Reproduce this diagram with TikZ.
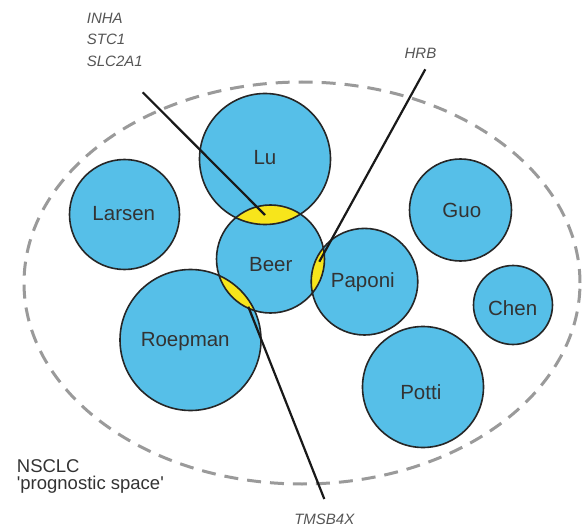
\documentclass[tikz,border=0pt]{standalone}
\usepackage{fontspec}
\setmainfont{Liberation Sans}
\definecolor{blobblue}{HTML}{56BFE8}
\definecolor{lensyellow}{HTML}{F7E51B}
\definecolor{dashgray}{HTML}{9A9A9A}
\definecolor{labelgray}{HTML}{333333}
\definecolor{genegray}{HTML}{555555}
\begin{document}
\begin{tikzpicture}[x=1pt,y=-1pt,
  blob/.style={circle, fill=blobblue, inner sep=0pt, outer sep=0pt},
  rim/.style={draw=black!85, line width=1.6pt},
  lens/.style={fill=lensyellow},
  lbl/.style={anchor=base, text=labelgray, font=\fontsize{20.5}{24}\selectfont, inner sep=0pt},
  gene/.style={anchor=base west, text=genegray, font=\fontsize{15}{18}\selectfont\itshape, inner sep=0pt},
  genec/.style={anchor=base, text=genegray, font=\fontsize{15}{18}\selectfont\itshape, inner sep=0pt},
  space/.style={anchor=base west, text=labelgray, font=\fontsize{18.5}{17}\selectfont, inner sep=0pt},
  marker/.style={draw=black!90, line width=2.2pt}]
\useasboundingbox (0,0) rectangle (582,527);
% prognostic space
\draw[dashgray, line width=3pt, dash pattern=on 14pt off 9pt] (302,283) ellipse [x radius=278pt, y radius=201pt];
% circle fills
\node[blob, minimum size=131pt] (Lu) at (265,159) {};
\node[blob, minimum size=108pt] (Beer) at (270.5,259) {};
\node[blob, minimum size=110pt] (Larsen) at (124.5,214.5) {};
\node[blob, minimum size=102pt] (Guo) at (460.5,210) {};
\node[blob, minimum size=106.6pt] (Paponi) at (364.5,281.7) {};
\node[blob, minimum size=79pt] (Chen) at (513,305) {};
\node[blob, minimum size=121pt] (Potti) at (423,387) {};
\node[blob, minimum size=141pt] (Roepman) at (190.5,340) {};
% overlaps
\begin{scope}
  \clip (Lu.center) circle[radius=65.5pt];
  \fill[lens] (Beer.center) circle[radius=54pt];
\end{scope}
\begin{scope}
  \clip (Paponi.center) circle[radius=53.3pt];
  \fill[lens] (Beer.center) circle[radius=54pt];
\end{scope}
\begin{scope}
  \clip (Roepman.center) circle[radius=70.5pt];
  \fill[lens] (Beer.center) circle[radius=54pt];
\end{scope}
% outlines
\path[rim] (Lu.center) circle[radius=65.5pt];
\path[rim] (Beer.center) circle[radius=54pt];
\path[rim] (Larsen.center) circle[radius=55pt];
\path[rim] (Guo.center) circle[radius=51pt];
\path[rim] (Paponi.center) circle[radius=53.3pt];
\path[rim] (Chen.center) circle[radius=39.5pt];
\path[rim] (Potti.center) circle[radius=60.5pt];
\path[rim] (Roepman.center) circle[radius=70.5pt];
% circle labels
\node[lbl] (tLu) at (265,164.3) {Lu};
\node[lbl] (tBeer) at (270.8,271.7) {Beer};
\node[lbl] (tLarsen) at (123.8,220.7) {Larsen};
\node[lbl] (tGuo) at (461.8,217.3) {Guo};
\node[lbl] (tPaponi) at (362.8,287) {Paponi};
\node[lbl] (tChen) at (512.7,315) {Chen};
\node[lbl] (tPotti) at (420.8,399) {Potti};
\node[lbl] (tRoepman) at (185.2,346.7) {Roepman};
% gene markers
\coordinate (inhaEnd) at (142.7,92.3);
\coordinate (inhaTip) at (265,215);
\coordinate (hrbEnd) at (425.3,69.3);
\coordinate (hrbTip) at (319.3,261.7);
\coordinate (tmsTip) at (248.3,306.7);
\coordinate (tmsEnd) at (324.3,499);
\draw[marker] (inhaEnd) -- (inhaTip);
\draw[marker] (hrbEnd) -- (hrbTip);
\draw[marker] (tmsTip) -- (tmsEnd);
% gene labels
\node[gene] (gINHA) at (86.7,23.3) {INHA};
\node[gene] (gSTC) at (86.7,45) {STC1};
\node[gene] (gSLC) at (86.7,66.7) {SLC2A1};
\node[genec] (gHRB) at (420.5,59) {HRB};
\node[genec] (gTMS) at (324.3,524) {TMSB4X};
% space label
\node[space] (sp1) at (16.7,472.3) {NSCLC};
\node[space] (sp2) at (16.7,489) {\textquotesingle prognostic space\textquotesingle};
\end{tikzpicture}
\end{document}
